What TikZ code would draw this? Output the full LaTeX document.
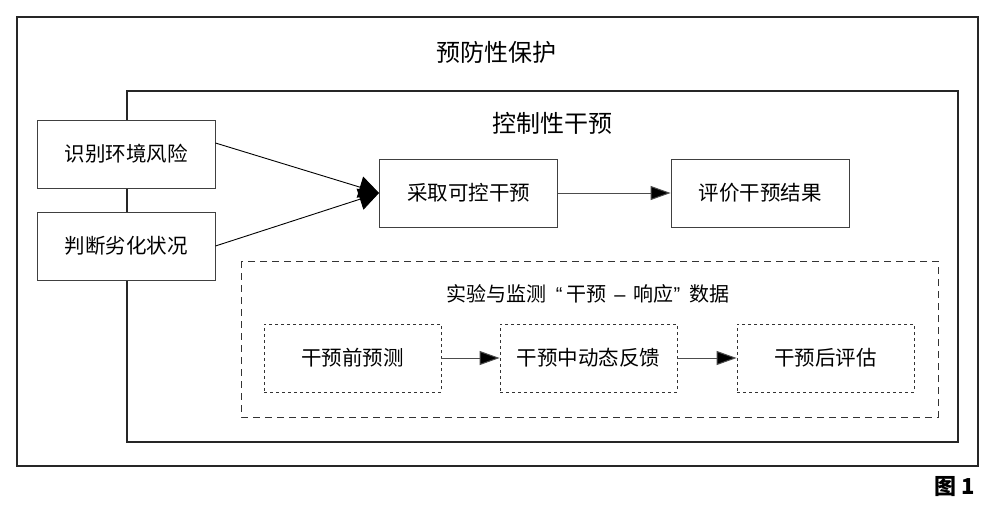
\documentclass[tikz,border=0pt]{standalone}
\usepackage{fontspec}
\setmainfont{Liberation Sans}
\newfontfamily\cjk{Noto Sans CJK SC}
\usetikzlibrary{arrows.meta}
\tikzset{
  solidbox/.style={draw=black!75, fill=white, line width=0.9pt, minimum width=178pt, minimum height=68pt, inner sep=0pt, font=\cjk\fontsize{20.5}{24}\selectfont},
  dotbox/.style={draw=black!80, fill=white, line width=0.9pt, dash pattern=on 3pt off 3pt, minimum width=177pt, minimum height=68pt, inner sep=0pt, font=\cjk\fontsize{20.5}{24}\selectfont},
  bigarrow/.style={draw=black, line width=0.9pt, -{Triangle[length=20pt,width=22pt]}},
  smallarrow/.style={draw=black!70, line width=1pt, -{Triangle[length=20pt,width=14pt,fill=black]}},
  title/.style={font=\cjk\fontsize{24}{28}\selectfont, inner sep=0pt},
}
\begin{document}
\begin{tikzpicture}[x=1pt,y=-1pt]
\useasboundingbox (0,0) rectangle (992,506);
\fill[white] (0,0) rectangle (992,506);
% outer frame
\draw[black!85, line width=1.3pt] (17,17) rectangle (978,466);
\node[title] (t1) at (496,52) {预防性保护};
% inner frame
\draw[black!85, line width=1.3pt] (127,91) rectangle (958,442);
\node[title] (t2) at (552,123) {控制性干预};
% boxes
\node[solidbox] (a) at (126,154) {识别环境风险};
\node[solidbox] (b) at (126,246) {判断劣化状况};
\node[solidbox] (c) at (468.5,193) {采取可控干预};
\node[solidbox] (d) at (760,193) {评价干预结果};
\draw[bigarrow] ([yshift=11pt]a.east) -- (c.west);
\draw[bigarrow] (b.east) -- (c.west);
\draw[smallarrow] (c.east) -- (d.west);
% dashed box
\draw[black!80, line width=0.9pt, dash pattern=on 7pt off 5pt] (241,261) rectangle (938,417);
\node[font=\cjk\fontsize{20}{24}\selectfont, inner sep=0pt] (t3) at (588,294) {实验与监测\hspace{9pt}{\rmfamily “}\hspace{4pt}干预\hspace{8pt}{\rmfamily –}\hspace{8pt}响应{\rmfamily ”}\hspace{9pt}数据};
\node[dotbox] (e) at (352.5,358) {干预前预测};
\node[dotbox] (f) at (588.5,358) {干预中动态反馈};
\node[dotbox] (g) at (825.5,358) {干预后评估};
\draw[smallarrow] (e.east) -- (f.west);
\draw[smallarrow] (f.east) -- (g.west);
\node[font=\cjk\bfseries\fontsize{22}{26}\selectfont, inner sep=0pt] (fig) at (955,487) {图 1};
\end{tikzpicture}
\end{document}
